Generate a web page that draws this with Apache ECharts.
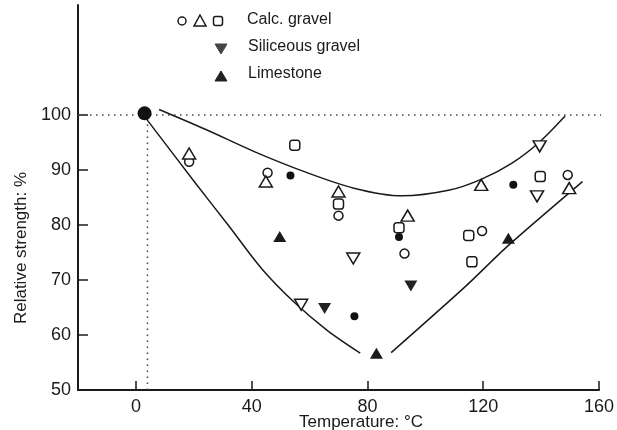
<!DOCTYPE html>
<html><head><meta charset="utf-8">
<script src="https://cdn.jsdelivr.net/npm/echarts@6/dist/echarts.min.js"></script>
<style>html,body{margin:0;padding:0;background:#fff}#c{width:617px;height:430px}</style>
</head><body><div id="c"></div>
<script>
// ---- data ----
const xTicks = [0, 40, 80, 120, 160];
const yLabelTicks = [50, 60, 70, 80, 90, 100];
const yTickMarks = [60, 70, 80, 90, 100];

const calcCircles   = [[18.4,91.5],[45.5,89.5],[70,81.7],[92.8,74.8],[119.6,78.9],[149.2,89.1]];
const calcTriangles = [[18.4,93.0],[44.9,87.9],[70,86.1],[93.9,81.7],[119.3,87.3],[149.7,86.7]];
const calcSquares   = [[54.9,94.5],[70,83.8],[90.9,79.5],[115,78.1],[116.1,73.3],[139.7,88.8]];
const openDownTri   = [[57.1,65.5],[75.1,73.9],[138.6,85.2],[139.5,94.3]];
const siliceous     = [[65.2,64.8],[95,68.9]];
const limestone     = [[49.7,77.9],[83.1,56.7],[128.7,77.6]];
const filledDots    = [[53.4,89.0],[75.5,63.4],[90.9,77.8],[130.4,87.3]];
const referencePt   = [[3,100.3]];

const upperCurve = [[8,101.0],[24,97.4],[41.1,93.3],[58.2,89.7],[75.3,86.7],[92,85.3],[108,86.3],[119.3,88.3],[129.8,91.2],[139.5,95.1],[148.3,99.8]];
const lowerLeftCurve = [[2.9,99.8],[20.6,87.6],[32,79.9],[43.4,72.1],[54.8,65.9],[66.2,60.8],[77.5,56.7]];
const lowerRightCurve = [[88.2,56.8],[113.8,68.8],[128.7,76.3],[154.3,87.9]];
const refHLine = [[-20,100],[162,100]];
const refVLine = [[4,50],[4,100]];

const legendItems = ['Calc. gravel', 'Siliceous gravel', 'Limestone'];
const xTitle = 'Temperature: °C';
const yTitle = 'Relative strength: %';

// ---- chart ----
const FONT = 'Liberation Sans, Arial, sans-serif';
const INK = '#1a1a1a';
const chart = echarts.init(document.getElementById('c'), null, {renderer: 'canvas'});

function openSym(data, symbol, size, extra) {
  return Object.assign({
    type: 'scatter', data: data, symbol: symbol, symbolSize: size,
    itemStyle: {color: '#fff', borderColor: INK, borderWidth: 1.5, opacity: 1},
    z: 5, silent: true
  }, extra || {});
}
function fillSym(data, symbol, size, color, extra) {
  return Object.assign({
    type: 'scatter', data: data, symbol: symbol, symbolSize: size,
    itemStyle: {color: color, borderWidth: 0, opacity: 1},
    z: 6, silent: true
  }, extra || {});
}
function curve(data, smooth) {
  return {type: 'line', data: data, showSymbol: false, symbol: 'none', smooth: smooth,
    lineStyle: {color: INK, width: 1.5}, z: 3, silent: true};
}

chart.setOption({
  animation: false,
  backgroundColor: '#fff',
  grid: {left: 78, right: 12.5, top: 5, bottom: 40},
  xAxis: {
    type: 'value', min: -20, max: 160, interval: 20,
    axisLine: {show: true, onZero: false, lineStyle: {color: INK, width: 2}},
    axisTick: {show: true, inside: true, length: 9, customValues: xTicks, lineStyle: {color: INK, width: 1.5}},
    axisLabel: {customValues: xTicks, margin: 8, color: INK, fontSize: 18, fontFamily: FONT},
    splitLine: {show: false}
  },
  yAxis: {
    type: 'value', min: 50, max: 120, interval: 10,
    axisLine: {show: true, onZero: false, lineStyle: {color: INK, width: 2}},
    axisTick: {show: true, inside: true, length: 10, customValues: yTickMarks, lineStyle: {color: INK, width: 1.5}},
    axisLabel: {customValues: yLabelTicks, margin: 7, color: INK, fontSize: 18, fontFamily: FONT},
    splitLine: {show: false}
  },
  series: [
    curve(upperCurve, 0.3),
    curve(lowerLeftCurve, 0.3),
    curve(lowerRightCurve, 0.25),
    {type: 'line', data: refHLine, symbol: 'none', clip: false, silent: true,
      lineStyle: {color: '#444', width: 1.5, type: [1.5, 4.5]}, z: 2},
    {type: 'line', data: refVLine, symbol: 'none', silent: true,
      lineStyle: {color: '#444', width: 1.5, type: [1.5, 4.5]}, z: 2},
    openSym(calcCircles, 'circle', 9),
    openSym(calcTriangles, 'triangle', [13, 11]),
    openSym(calcSquares, 'roundRect', 10),
    openSym(openDownTri, 'triangle', [13, 11], {symbolRotate: 180}),
    fillSym(siliceous, 'triangle', [13, 11], '#222', {symbolRotate: 180}),
    fillSym(limestone, 'triangle', [13, 11], '#1a1a1a'),
    fillSym(filledDots, 'circle', 8, '#111'),
    fillSym(referencePt, 'circle', 14, '#111')
  ],
  graphic: [
    // legend markers
    {type: 'circle', shape: {cx: 182, cy: 21, r: 4}, style: {fill: '#fff', stroke: INK, lineWidth: 1.5}},
    {type: 'polygon', shape: {points: [[200, 15], [206, 26], [194, 26]]}, style: {fill: '#fff', stroke: INK, lineWidth: 1.5}},
    {type: 'rect', shape: {x: 213.5, y: 16.5, width: 9, height: 9, r: 2}, style: {fill: '#fff', stroke: INK, lineWidth: 1.5}},
    {type: 'polygon', shape: {points: [[215, 44], [227, 44], [221, 54]]}, style: {fill: '#444', stroke: '#444', lineWidth: 1}},
    {type: 'polygon', shape: {points: [[221, 71], [227, 81], [215, 81]]}, style: {fill: '#222', stroke: '#222', lineWidth: 1}},
    // legend texts
    {type: 'text', left: 247, top: 12, style: {text: legendItems[0], fill: INK, font: '16px ' + FONT}},
    {type: 'text', left: 248, top: 39, style: {text: legendItems[1], fill: INK, font: '16px ' + FONT}},
    {type: 'text', left: 248, top: 66, style: {text: legendItems[2], fill: INK, font: '16px ' + FONT}},
    // axis titles
    {type: 'text', x: 361, y: 422, style: {text: xTitle, fill: INK, font: '17px ' + FONT, align: 'center', verticalAlign: 'middle'}},
    {type: 'text', x: 21, y: 248, rotation: Math.PI / 2, style: {text: yTitle, fill: INK, font: '17px ' + FONT, align: 'center', verticalAlign: 'middle'}}
  ]
});
</script>
</body></html>
